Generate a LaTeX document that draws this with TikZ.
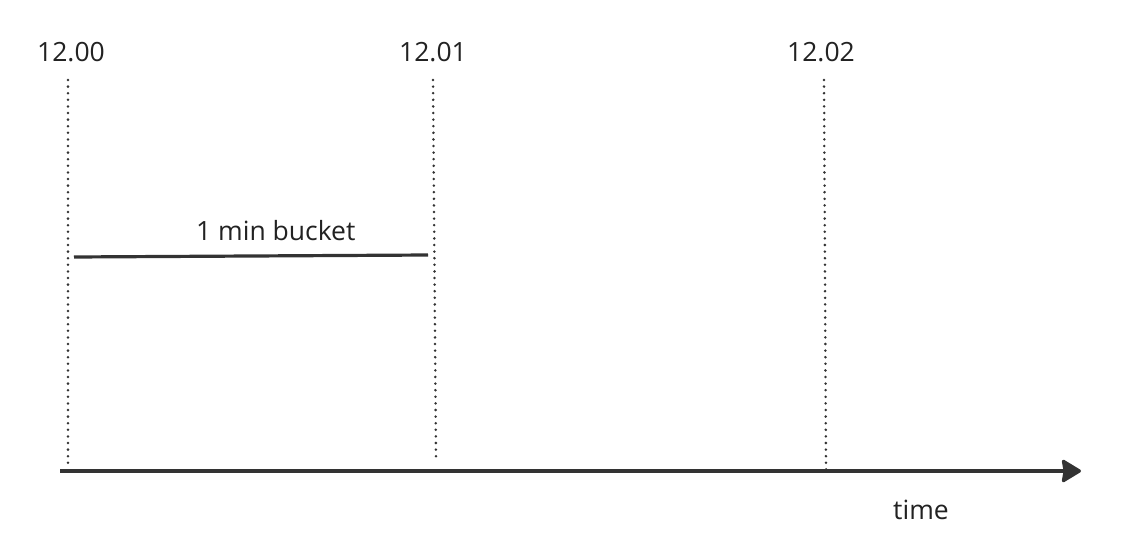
\documentclass[tikz,border=0pt]{standalone}
\usepackage{fontspec}
\setmainfont{Open Sans}
\usepackage{tikz}
\usetikzlibrary{arrows.meta,calc}
\definecolor{ink}{HTML}{222222}
\definecolor{pen}{HTML}{333333}
\tikzstyle{stamp}=[font=\fontsize{26.5}{30}\selectfont, text=ink, inner sep=0pt]
\tikzstyle{tick}=[draw=pen, line width=2.8pt, line cap=round,
  dash pattern=on 0pt off 6.6pt]
\tikzstyle{axis}=[draw=pen, line width=3.2pt,
  -{Stealth[round, length=21pt, width=25pt, inset=2pt]}]
\tikzstyle{span}=[draw=pen, line width=3.2pt]

\begin{document}
\begin{tikzpicture}[x=1pt, y=-1pt]
  \useasboundingbox (0,0) rectangle (1130,546);

  \node(t0)[stamp] at (71,52.5) {12.00};
  \path(t0)+(362,0) node(t1)[stamp]{12.01};
  \path(t1)+(388,0) node(t2)[stamp]{12.02};

  % dotted minute marks
  \coordinate (t0top) at (68,80);
  \coordinate (t0bot) at (68,468);
  \coordinate (t1top) at (433,80);
  \coordinate (t1bot) at (436,460);
  \coordinate (t2top) at (824,80);
  \coordinate (t2bot) at (826,470);
  \draw[tick] (t0top) -- (t0bot);
  \draw[tick] (t1top) -- (t1bot);
  \draw[tick] (t2top) -- (t2bot);

  % time axis
  \coordinate (origin) at (60,471);
  \coordinate (far) at (1081,471);
  \draw[axis] (origin) -- (far);
  \path(far)+(-160,39) node(time)[stamp]{time};

  % one bucket
  \coordinate (bstart) at (74,257);
  \coordinate (bend) at (428,255);
  \draw[span] (bstart) -- (bend)
  node(bucket)[pos=0.57, above=14pt, stamp]{1 min bucket};
\end{tikzpicture}
\end{document}
